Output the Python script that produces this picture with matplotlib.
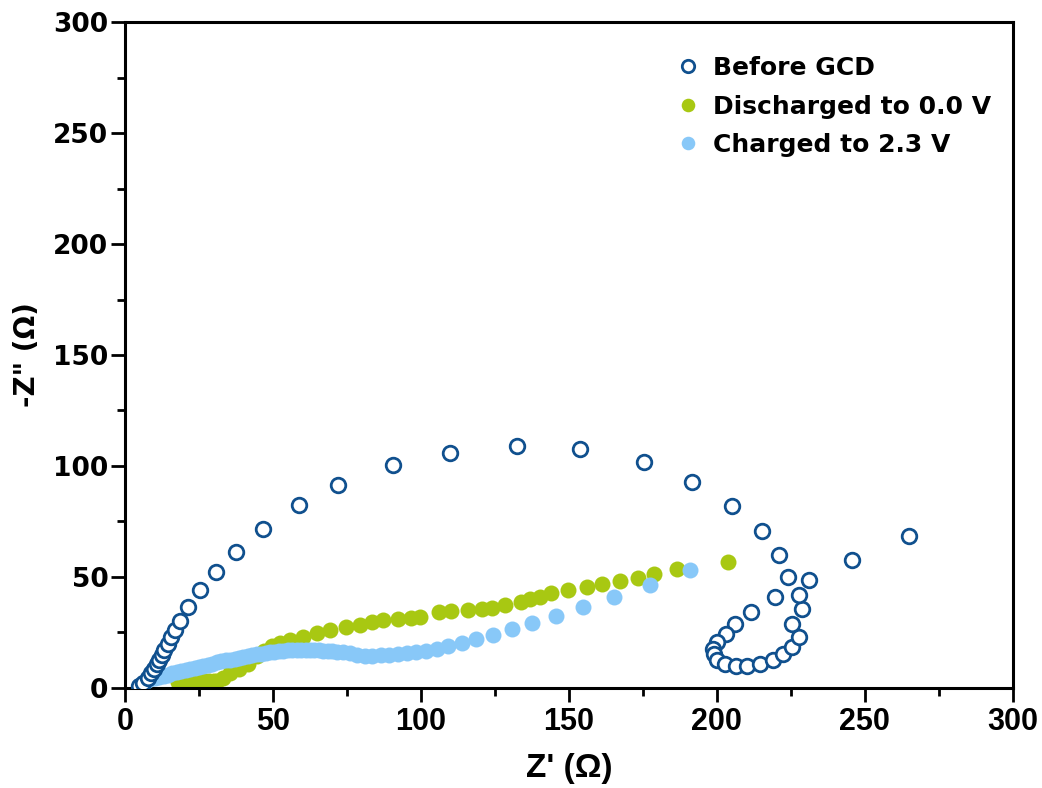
import matplotlib
matplotlib.use("Agg")
import matplotlib.pyplot as plt
from matplotlib.ticker import MultipleLocator

# Before GCD (open circles)
before_x = [4.6, 6.0, 7.6, 8.9, 9.9, 10.8, 11.6, 12.4, 13.3, 14.4, 15.6, 16.8, 18.6,
            21.4, 25.4, 30.6, 37.4, 46.7, 58.7, 72.1, 90.5, 109.8, 132.4, 153.7,
            175.3, 191.7, 205.0, 215.1, 221.1, 223.9, 219.7, 211.5, 206.1, 203.0,
            200.1, 198.8, 199.0, 200.1, 202.9, 206.4, 210.2, 214.6, 218.8, 222.4,
            225.5, 227.8, 225.5, 228.9, 227.8, 231.2, 245.8, 264.9]
before_y = [0.8, 2.3, 4.4, 6.6, 8.6, 10.6, 12.6, 14.9, 17.3, 20.0, 22.8, 26.0, 30.0,
            36.5, 44.0, 52.4, 61.4, 71.5, 82.3, 91.4, 100.5, 105.9, 109.0, 107.7,
            101.8, 92.6, 81.8, 70.9, 59.8, 50.0, 40.9, 34.2, 28.8, 24.3,
            20.6, 17.6, 15.2, 12.6, 10.8, 9.9, 9.9, 10.7, 12.6, 15.3,
            18.5, 23.1, 28.7, 35.6, 42.0, 48.5, 57.8, 68.5]

# Discharged to 0.0 V
dis_x = [18.0, 19.5, 21.0, 22.5, 24.0, 25.5, 27.0, 28.5, 30.0, 31.0, 33.0, 35.5,
         38.5, 41.5, 44.5, 47.0, 49.5, 52.4, 55.7, 60.2, 64.8, 69.3, 74.7, 79.4,
         83.3, 87.1, 92.1, 96.8, 99.7, 106.1, 110.1, 116.0, 120.5, 124.0, 128.3,
         133.7, 136.8, 140.2, 143.8, 149.7, 156.0, 161.1, 167.2, 173.4, 178.7,
         186.4, 203.6]
dis_y = [2.8, 2.8, 2.9, 2.9, 3.0, 3.0, 3.0, 3.1, 3.1, 3.3, 4.5, 6.5,
         8.5, 11.0, 14.2, 16.8, 18.8, 20.1, 21.6, 23.1, 24.6, 26.1, 27.3, 28.4,
         29.7, 30.6, 31.1, 31.7, 32.1, 34.4, 34.8, 35.1, 35.6, 36.2, 37.4,
         38.7, 40.1, 41.1, 42.6, 44.1, 45.6, 46.8, 48.2, 49.4, 51.2,
         53.6, 56.9]

# Charged to 2.3 V
chg_x = [7.0, 8.5, 10.0, 11.5, 13.0, 14.5, 16.0, 17.5, 19.0, 20.5, 22.0, 23.5, 25.0,
         26.5, 28.0, 29.5, 31.0, 32.5, 34.0, 35.5, 37.0, 38.5, 40.0, 41.5, 43.0,
         44.5, 46.0, 47.5, 49.0, 50.5, 52.0, 53.5, 55.0, 56.5, 58.0, 59.5, 61.0,
         62.5, 64.0, 65.5, 67.0, 68.5, 70.0, 71.5, 73.5, 76.0, 78.5, 81.0, 83.5,
         86.4, 89.3, 92.1, 95.2, 98.3, 101.6, 105.3, 109.2, 113.7, 118.6, 124.2,
         130.6, 137.6, 145.6, 154.8, 165.2, 177.4, 190.9]
chg_y = [3.0, 3.8, 4.4, 5.0, 5.5, 6.0, 6.5, 7.0, 7.5, 8.0, 8.5, 9.0, 9.5,
         10.0, 10.5, 11.0, 11.5, 12.0, 12.4, 12.8, 13.2, 13.6, 14.0, 14.4, 14.8,
         15.2, 15.5, 15.8, 16.1, 16.4, 16.6, 16.8, 17.0, 17.1, 17.2, 17.2, 17.2,
         17.1, 17.0, 16.9, 16.8, 16.6, 16.5, 16.4, 16.3, 15.6, 14.9, 14.6, 14.4,
         14.9, 15.0, 15.2, 15.6, 16.1, 16.7, 17.6, 18.8, 20.1, 21.9, 23.9,
         26.4, 29.1, 32.4, 36.6, 41.1, 46.4, 53.2]

dark_blue = '#10508e'
green = '#a8c812'
light_blue = '#88c8f8'

wide = ['DejaVu Sans']
narrow = ['Liberation Sans Narrow', 'Liberation Sans', 'DejaVu Sans']
plt.rcParams['font.family'] = wide
plt.rcParams['font.weight'] = 'bold'

fig = plt.figure(figsize=(10.42, 7.88), dpi=100)
ax = fig.add_axes([0.12, 0.127, 0.852, 0.845])

ax.plot(dis_x, dis_y, 'o', color=green, markersize=11.5, markeredgewidth=0,
        label='Discharged to 0.0 V', zorder=2)
ax.plot(chg_x, chg_y, 'o', color=light_blue, markersize=11.5, markeredgewidth=0,
        label='Charged to 2.3 V', zorder=3)
ax.plot(before_x, before_y, 'o', markerfacecolor='white', markeredgecolor=dark_blue,
        markersize=10.5, markeredgewidth=2.0, label='Before GCD', zorder=4)

ax.set_xlim(0, 300)
ax.set_ylim(0, 300)
ax.xaxis.set_major_locator(MultipleLocator(50))
ax.xaxis.set_minor_locator(MultipleLocator(25))
ax.yaxis.set_major_locator(MultipleLocator(50))
ax.yaxis.set_minor_locator(MultipleLocator(25))

for s in ax.spines.values():
    s.set_linewidth(2.2)
ax.tick_params(which='major', direction='out', length=10, width=2)
ax.tick_params(which='minor', direction='out', length=6, width=2)
ax.tick_params(axis='x', which='major', pad=4)
ax.tick_params(axis='y', which='major', pad=2)
for lab in ax.get_yticklabels():
    lab.set_fontfamily(wide)
    lab.set_fontsize(19)
    lab.set_fontweight('bold')
for lab in ax.get_xticklabels():
    lab.set_fontfamily(narrow)
    lab.set_fontsize(22)
    lab.set_fontweight('bold')

ax.set_xlabel("Z' (\u03a9)", fontsize=24, fontweight='bold', family=narrow, labelpad=11)
ax.set_ylabel('-Z" (\u03a9)', fontsize=20, fontweight='bold', family=wide, labelpad=9)

handles, labels = ax.get_legend_handles_labels()
order = [2, 0, 1]
leg = ax.legend([handles[i] for i in order], [labels[i] for i in order],
                loc='upper right', bbox_to_anchor=(0.995, 0.975), frameon=False,
                prop={'family': wide, 'weight': 'bold', 'size': 18}, markerscale=0.85,
                handlelength=1.4, handletextpad=0.3, labelspacing=0.58,
                borderaxespad=0.3)

fig.savefig('out.png', dpi=100)
